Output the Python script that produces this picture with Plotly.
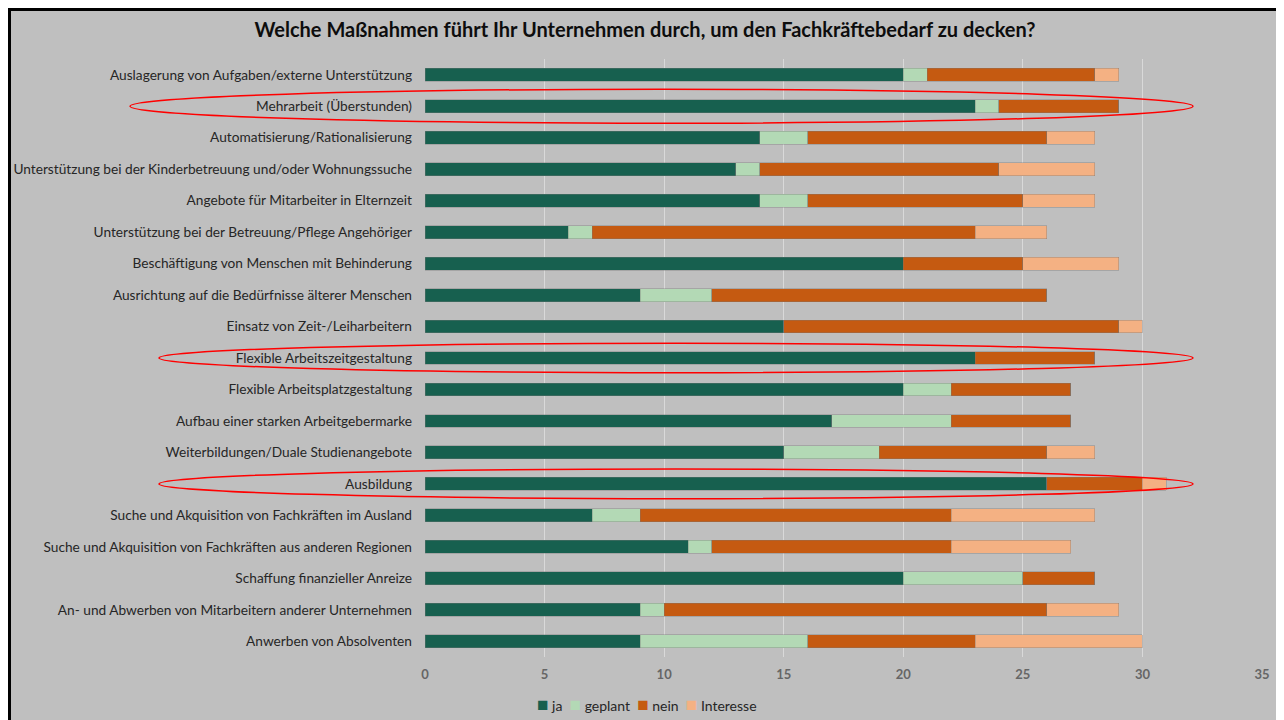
import plotly.graph_objects as go

categories = [
    "Auslagerung von Aufgaben/externe Unterstützung",
    "Mehrarbeit (Überstunden)",
    "Automatisierung/Rationalisierung",
    "Unterstützung bei der Kinderbetreuung und/oder Wohnungssuche",
    "Angebote für Mitarbeiter in Elternzeit",
    "Unterstützung bei der Betreuung/Pflege Angehöriger",
    "Beschäftigung von Menschen mit Behinderung",
    "Ausrichtung auf die Bedürfnisse älterer Menschen",
    "Einsatz von Zeit-/Leiharbeitern",
    "Flexible Arbeitszeitgestaltung",
    "Flexible Arbeitsplatzgestaltung",
    "Aufbau einer starken Arbeitgebermarke",
    "Weiterbildungen/Duale Studienangebote",
    "Ausbildung",
    "Suche und Akquisition von Fachkräften im Ausland",
    "Suche und Akquisition von Fachkräften aus anderen Regionen",
    "Schaffung finanzieller Anreize",
    "An- und Abwerben von Mitarbeitern anderer Unternehmen",
    "Anwerben von Absolventen",
]
ja =        [20, 23, 14, 13, 14, 6, 20, 9, 15, 23, 20, 17, 15, 26, 7, 11, 20, 9, 9]
geplant =   [1, 1, 2, 1, 2, 1, 0, 3, 0, 0, 2, 5, 4, 0, 2, 1, 5, 1, 7]
nein =      [7, 5, 10, 10, 9, 16, 5, 14, 14, 5, 5, 5, 7, 4, 13, 10, 3, 16, 7]
interesse = [1, 0, 2, 4, 3, 3, 4, 0, 1, 0, 0, 0, 2, 1, 6, 5, 0, 3, 7]

series = [("ja", ja, "#17604F"), ("geplant", geplant, "#B3D9B5"),
          ("nein", nein, "#C55A11"), ("Interesse", interesse, "#F4B183")]

highlighted = ["Mehrarbeit (Überstunden)", "Flexible Arbeitszeitgestaltung", "Ausbildung"]

fig = go.Figure()
for name, vals, col in series:
    fig.add_trace(go.Bar(
        y=categories, x=vals, name=name, orientation="h", showlegend=False,
        marker=dict(color=col, line=dict(color="rgba(120,120,120,0.45)", width=0.8)),
    ))

# page body has an 8px margin: figure origin sits at screen (8, 8)
OFF = 8
W, H = 1284 - OFF, 720 - OFF
ml, mr, mt, mb = 425 - OFF, 22, 59 - OFF, 63
pw, ph = W - ml - mr, H - mt - mb

def px_x(p):
    return (p - OFF - ml) / pw

def px_y(p):
    return (H - mb - (p - OFF)) / ph

shapes = [dict(type="rect", xref="paper", yref="paper",
               x0=px_x(9.5), x1=px_x(1281), y0=px_y(740), y1=px_y(9.5),
               fillcolor="#BFBFBF", line=dict(color="black", width=3), layer="below")]

ell = {"Mehrarbeit (Überstunden)": (130, 0.54),
       "Flexible Arbeitszeitgestaltung": (159, 0.47),
       "Ausbildung": (159, 0.47)}
for cat in highlighted:
    idx = categories.index(cat)
    left, hh = ell[cat]
    shapes.append(dict(type="circle", xref="paper", yref="y",
                       x0=px_x(left), x1=px_x(1193), y0=idx - hh, y1=idx + hh,
                       line=dict(color="#FF0000", width=1.5), layer="above"))

# compact Excel-style legend built from the series names and colours
legend_text = "&nbsp;&nbsp;".join(
    f"<span style='color:{col};font-size:19px'>■</span>&nbsp;{name}" for name, _, col in series)

fig.update_layout(
    width=W, height=H,
    margin=dict(l=ml, r=mr, t=mt, b=mb, autoexpand=False),
    paper_bgcolor="white", plot_bgcolor="rgba(0,0,0,0)",
    barmode="stack", bargap=0.59,
    font=dict(family="Lato, 'Open Sans', sans-serif", color="#262626", size=14),
    title=dict(text="<b>Welche Maßnahmen führt Ihr Unternehmen durch, um den Fachkräftebedarf zu decken?</b>",
               x=(645 - OFF) / W, xanchor="center",
               y=1 - (30 - OFF) / H, yanchor="middle",
               font=dict(size=20, color="#0D0D0D")),
    xaxis=dict(range=[0, 35], dtick=5, showgrid=True, gridcolor="#D9D9D9", gridwidth=1,
               zeroline=False, showline=False, ticks="", automargin=False,
               ticklabelstandoff=8,
               tickfont=dict(size=13, color="#666666", weight="bold")),
    yaxis=dict(autorange="reversed", showgrid=False, ticks="", ticklen=0, automargin=False,
               ticklabelstandoff=12,
               tickfont=dict(size=13.7, color="#262626")),
    annotations=[dict(text=legend_text, xref="paper", yref="paper",
                      x=px_x(647), y=px_y(703), xanchor="center", yanchor="middle",
                      showarrow=False, font=dict(size=14, color="#262626"))],
    shapes=shapes,
)

fig.write_html("out.html")
